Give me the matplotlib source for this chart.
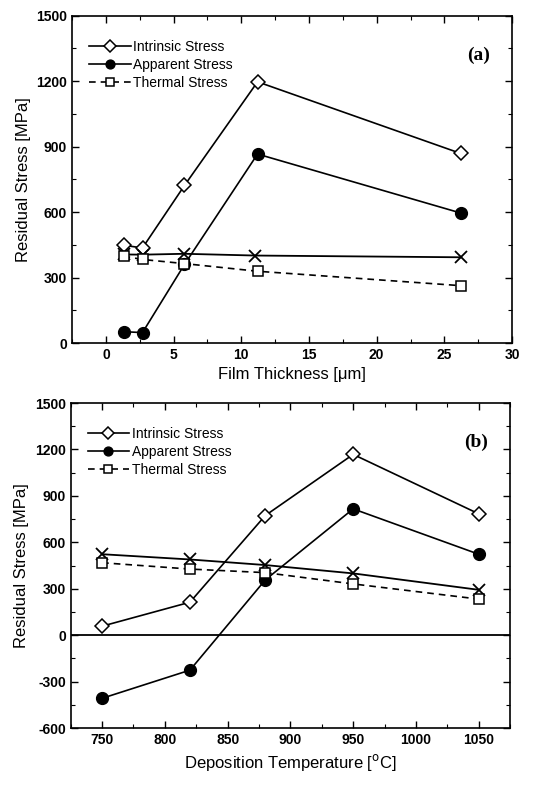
import matplotlib
matplotlib.use("Agg")
import matplotlib.pyplot as plt
from matplotlib.ticker import MultipleLocator

plt.rcParams["font.family"] = ["Liberation Sans", "DejaVu Sans"]
plt.rcParams["axes.unicode_minus"] = False

# (a) film thickness series
thick = [1.3, 2.7, 5.8, 11.2, 26.2]
thick_intrinsic = [448, 436, 722, 1197, 869]
thick_apparent = [52, 48, 360, 866, 596]
thick_thermal = [398, 383, 364, 329, 263]
thick_x = [1.3, 2.7, 5.8, 11.0, 26.2]
thick_total = [406, 405, 409, 401, 393]

# (b) deposition temperature series
temp = [750, 820, 880, 950, 1050]
temp_intrinsic = [58, 213, 773, 1168, 784]
temp_apparent = [-408, -226, 357, 816, 523]
temp_thermal = [468, 427, 404, 331, 233]
temp_total = [523, 489, 453, 399, 293]


def draw_panel(ax, x, intrinsic, apparent, thermal, xt, total):
    ax.plot(x, intrinsic, color="black", lw=1.2, marker="D", ms=7.5,
            mfc="white", mec="black", mew=1.1, label="Intrinsic Stress", zorder=3)
    ax.plot(x, apparent, color="black", lw=1.2, marker="o", ms=8.5,
            mfc="black", mec="black", label="Apparent Stress", zorder=3)
    ax.plot(x, thermal, color="black", lw=1.2, ls=(0, (4, 3)), marker="s", ms=7,
            mfc="white", mec="black", mew=1.1, label="Thermal Stress", zorder=4)
    ax.plot(xt, total, color="black", lw=1.3, marker="x", ms=9, mew=1.3, zorder=3)

    ax.tick_params(which="both", direction="in", top=True, right=True)
    ax.tick_params(which="major", length=5, width=1.0, labelsize=10)
    ax.tick_params(which="minor", length=3, width=0.8)
    for sp in ax.spines.values():
        sp.set_linewidth(1.2)
    ax.set_ylabel("Residual Stress [MPa]", fontsize=12)
    ax.legend(loc="upper left", bbox_to_anchor=(0.01, 0.965), frameon=False,
              fontsize=10, handlelength=3.0, handletextpad=0.2,
              labelspacing=0.3, markerscale=0.75)


fig = plt.figure(figsize=(5.59, 7.85), dpi=100)

ax1 = fig.add_axes([0.129, 0.563, 0.787, 0.417])
draw_panel(ax1, thick, thick_intrinsic, thick_apparent, thick_thermal, thick_x, thick_total)
ax1.set_xlim(-2.5, 30)
ax1.set_ylim(0, 1500)
ax1.xaxis.set_major_locator(MultipleLocator(5))
ax1.xaxis.set_minor_locator(MultipleLocator(2.5))
ax1.yaxis.set_major_locator(MultipleLocator(300))
ax1.yaxis.set_minor_locator(MultipleLocator(150))
ax1.set_xlabel("Film Thickness [\u03bcm]", fontsize=12)
ax1.text(0.95, 0.88, "(a)", transform=ax1.transAxes, ha="right", va="center",
         fontsize=14, family="Liberation Serif", fontweight="bold")
for lab in ax1.get_xticklabels() + ax1.get_yticklabels():
    lab.set_fontweight("bold")

ax2 = fig.add_axes([0.1265, 0.0726, 0.786, 0.414])
draw_panel(ax2, temp, temp_intrinsic, temp_apparent, temp_thermal, temp, temp_total)
ax2.axhline(0, color="black", lw=1.3, zorder=2)
ax2.set_xlim(725, 1075)
ax2.set_ylim(-600, 1500)
ax2.xaxis.set_major_locator(MultipleLocator(50))
ax2.xaxis.set_minor_locator(MultipleLocator(25))
ax2.yaxis.set_major_locator(MultipleLocator(300))
ax2.yaxis.set_minor_locator(MultipleLocator(150))
ax2.set_xlabel("Deposition Temperature [$^{\\mathrm{o}}$C]", fontsize=12)
ax2.text(0.95, 0.88, "(b)", transform=ax2.transAxes, ha="right", va="center",
         fontsize=14, family="Liberation Serif", fontweight="bold")
for lab in ax2.get_xticklabels() + ax2.get_yticklabels():
    lab.set_fontweight("bold")

fig.savefig("out.png", dpi=100)
